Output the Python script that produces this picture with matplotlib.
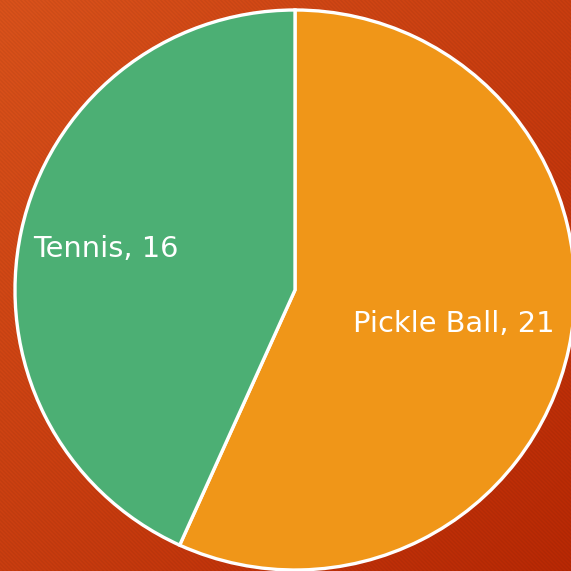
import numpy as np
import matplotlib
matplotlib.use("Agg")
import matplotlib.pyplot as plt

# Data
categories = ["Pickle Ball", "Tennis"]
values = [21, 16]
colors = ["#F09618", "#4CAF74"]
label_dist = [0.58, 0.69]

W = H = 571
fig = plt.figure(figsize=(W / 100, H / 100), dpi=100)

# Background: diagonal gradient with subtle stripes
bg = fig.add_axes([0, 0, 1, 1])
yy, xx = np.mgrid[0:H, 0:W]
t = (xx + yy) / (W + H - 2)
c0 = np.array([0xD9, 0x52, 0x1B]) / 255.0
c1 = np.array([0xB8, 0x28, 0x04]) / 255.0
img = c0[None, None, :] * (1 - t[..., None]) + c1[None, None, :] * t[..., None]
stripe = ((xx - yy) % 4 < 2).astype(float)
img = img * (1 - 0.04 * stripe[..., None])
bg.imshow(np.clip(img, 0, 1), extent=[0, 1, 0, 1], aspect="auto", origin="upper",
          interpolation="nearest")
bg.set_axis_off()

# Pie axes
cx, cy_top, r = 295, 290, 280
cy = H - cy_top
ax = fig.add_axes([(cx - r) / W, (cy - r) / H, 2 * r / W, 2 * r / H])
wedges, _ = ax.pie(values, colors=colors, startangle=90, counterclock=False,
                   radius=1.0,
                   wedgeprops=dict(edgecolor="white", linewidth=2.4))
for w in wedges:
    w.set_clip_on(False)
ax.set_xlim(-1, 1)
ax.set_ylim(-1, 1)
ax.set_aspect("equal")
ax.set_axis_off()

for w, cat, val, d in zip(wedges, categories, values, label_dist):
    ang = np.deg2rad((w.theta1 + w.theta2) / 2)
    ax.text(d * np.cos(ang), d * np.sin(ang), f"{cat}, {val}",
            ha="center", va="center", color="white", fontsize=20.8,
            family="DejaVu Sans")

fig.savefig("out.png", dpi=100)
